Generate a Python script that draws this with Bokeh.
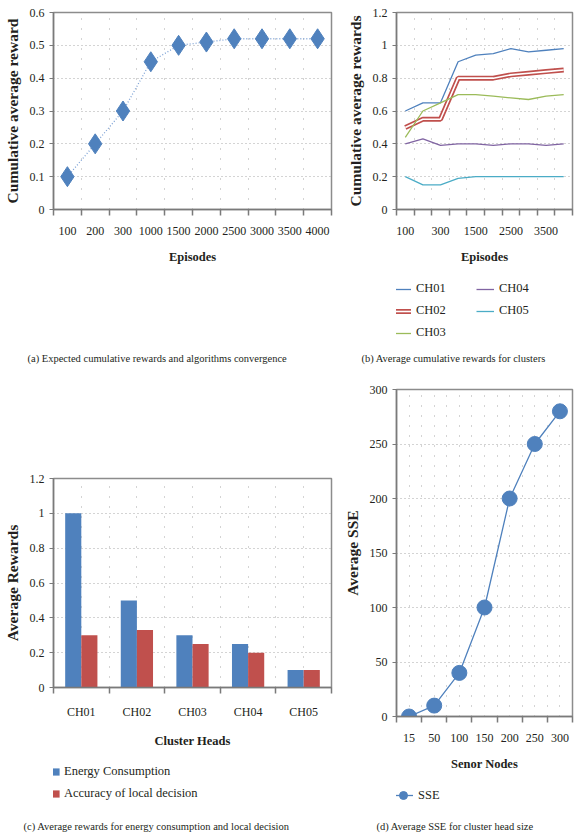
from bokeh.plotting import figure
from bokeh.layouts import row, column
from bokeh.models import (FixedTicker, CustomJSTickFormatter, Legend,
                          LegendItem, Range1d, Title)
from bokeh.embed import file_html
from bokeh.resources import INLINE

# ---------------- data ----------------
episodes = ["100", "200", "300", "1000", "1500", "2000", "2500", "3000", "3500", "4000"]
reward_a = [0.1, 0.2, 0.3, 0.45, 0.5, 0.51, 0.52, 0.52, 0.52, 0.52]
a_yticks = [0, 0.1, 0.2, 0.3, 0.4, 0.5, 0.6]

ch01 = [0.6, 0.65, 0.65, 0.9, 0.94, 0.95, 0.98, 0.96, 0.97, 0.98]
ch02 = [0.5, 0.55, 0.55, 0.8, 0.8, 0.8, 0.82, 0.83, 0.84, 0.85]
ch03 = [0.44, 0.6, 0.65, 0.7, 0.7, 0.69, 0.68, 0.67, 0.69, 0.7]
ch04 = [0.4, 0.43, 0.39, 0.4, 0.4, 0.39, 0.4, 0.4, 0.39, 0.4]
ch05 = [0.2, 0.15, 0.15, 0.19, 0.2, 0.2, 0.2, 0.2, 0.2, 0.2]
b_yticks = [0, 0.2, 0.4, 0.6, 0.8, 1.0, 1.2]
series_names = ["CH01", "CH02", "CH03", "CH04", "CH05"]

heads = ["CH01", "CH02", "CH03", "CH04", "CH05"]
energy = [1.0, 0.5, 0.3, 0.25, 0.1]
accuracy = [0.3, 0.33, 0.25, 0.2, 0.1]
bar_names = ["Energy Consumption", "Accuracy of local decision"]
c_yticks = [0, 0.2, 0.4, 0.6, 0.8, 1.0, 1.2]

nodes = ["15", "50", "100", "150", "200", "250", "300"]
sse = [0, 10, 40, 100, 200, 250, 280]
d_yticks = [0, 50, 100, 150, 200, 250, 300]

captions = [
    "(a)  Expected cumulative rewards and algorithms convergence",
    "(b)  Average cumulative rewards for clusters",
    "(c)  Average rewards for energy consumption and local decision",
    "(d)  Average SSE for cluster head size",
]

# ---------------- style ----------------
FONT = "Liberation Serif"
TXT = "#231f20"
AX = "#7a7a7a"
GRID = "#a8a8a8"
BLUE = "#4f81bd"
RED = "#c0504d"
GREEN = "#9bbb59"
PURPLE = "#8064a2"
CYAN = "#4bacc6"
LINE_COLORS = [BLUE, RED, GREEN, PURPLE, CYAN]


def make_fig(w, h, bl, br, bt, bb, labels, label_step, ymax, yticks,
             xlabel, ylabel, center_grid=False):
    n = len(labels)
    p = figure(width=w, height=h, min_border_left=bl, min_border_right=br,
               min_border_top=bt, min_border_bottom=bb,
               x_range=Range1d(0, n), y_range=Range1d(0, ymax),
               output_backend="svg", toolbar_location=None, tools="")
    p.outline_line_color = "#8c8c8c"
    p.outline_line_width = 1.5
    xt = FixedTicker(ticks=[i + 0.5 for i in range(0, n, label_step)],
                     minor_ticks=list(range(n + 1)))
    yt = FixedTicker(ticks=yticks, minor_ticks=[])
    p.xaxis.ticker = xt
    p.yaxis.ticker = yt
    p.xgrid.ticker = FixedTicker(ticks=[i + 0.5 for i in range(n)],
                                 minor_ticks=list(range(n + 1)))
    p.ygrid.ticker = yt
    p.xaxis.formatter = CustomJSTickFormatter(
        args=dict(labels=labels), code="return labels[Math.floor(tick)];")
    p.yaxis.formatter = CustomJSTickFormatter(code="return String(tick);")
    for ax in p.axis:
        ax.axis_line_color = AX
        ax.axis_line_width = 1.5
        ax.major_label_text_font = FONT
        ax.major_label_text_font_size = "12px"
        ax.major_label_text_color = TXT
        ax.axis_label_text_font = FONT
        ax.axis_label_text_font_style = "bold"
        ax.axis_label_text_color = TXT
    p.xaxis.major_tick_line_color = None
    p.xaxis.major_tick_out = 0
    p.xaxis.major_tick_in = 0
    p.xaxis.minor_tick_line_color = AX
    p.xaxis.minor_tick_line_width = 1.5
    p.xaxis.minor_tick_out = 6
    p.xaxis.minor_tick_in = 0
    p.xaxis.major_label_standoff = 11
    p.xaxis.axis_label = xlabel
    p.xaxis.axis_label_text_font_size = "12.5px"
    p.xaxis.axis_label_standoff = 12
    p.yaxis.major_tick_line_color = AX
    p.yaxis.major_tick_line_width = 1.2
    p.yaxis.major_tick_out = 4
    p.yaxis.major_tick_in = 0
    p.yaxis.minor_tick_line_color = None
    p.yaxis.major_label_standoff = 5
    p.yaxis.axis_label = ylabel
    p.yaxis.axis_label_text_font_size = "15.5px"
    p.yaxis.axis_label_standoff = 6
    p.xgrid.grid_line_color = GRID if center_grid else None
    p.xgrid.grid_line_dash = "1 9"
    p.xgrid.minor_grid_line_color = GRID
    p.xgrid.minor_grid_line_dash = "1 9"
    p.ygrid.grid_line_color = GRID
    p.ygrid.grid_line_dash = "1 3"
    return p


def footer(w, h, bl, br, bb, n):
    # legend / caption strip under a panel; its frame lines up with the panel's
    f = figure(width=w, height=h, min_border_left=bl, min_border_right=br,
               min_border_top=0, min_border_bottom=bb,
               x_range=Range1d(0, n), y_range=Range1d(-2, -1),
               x_axis_type=None, y_axis_type=None,
               output_backend="svg", toolbar_location=None, tools="")
    f.outline_line_color = None
    return f


def caption(f, text, offset):
    f.add_layout(Title(text=text, align="left", offset=offset, standoff=0,
                       text_font=FONT, text_font_size="10.5px",
                       text_font_style="normal", text_color=TXT), "below")


def legend(f, items, loc, gw=18, gh=14, standoff=7, nrows="auto", lw=20):
    for it in items:
        for r in it.renderers:
            r.visible = False   # legend-only copies; the panel above shows the data
    leg = Legend(items=items, location=loc, orientation="vertical",
                 nrows=nrows, glyph_width=gw, glyph_height=gh,
                 label_height=14, label_width=lw,
                 label_standoff=standoff, spacing=7, padding=0, margin=0,
                 border_line_color=None, background_fill_alpha=0,
                 inactive_fill_alpha=0,
                 label_text_font=FONT, label_text_font_size="12.5px",
                 label_text_color=TXT)
    f.add_layout(leg)


def draw_series(p, x, vals, col):
    if col == RED:
        return [p.line(x, vals, line_color=RED, line_width=5),
                p.line(x, vals, line_color="white", line_width=1.6)]
    return [p.line(x, vals, line_color=col, line_width=1.3)]


# ---------------- (a) ----------------
xa = [i + 0.5 for i in range(len(episodes))]
pa = make_fig(340, 270, 50, 8, 12, 61, episodes, 1, 0.6, a_yticks,
              "Episodes", "Cumulative average reward")
pa.line(xa, reward_a, line_color="#7fa3d6", line_dash="1 2", line_width=1.3)
pa.scatter(xa, reward_a, marker="diamond", size=20, fill_color=BLUE,
           line_color=BLUE)
fa = footer(340, 100, 50, 8, 20, len(episodes))
caption(fa, captions[0], -26)

# ---------------- (b) ----------------
pb = make_fig(234, 270, 49, 2, 12, 61, episodes, 2, 1.2, b_yticks,
              "Episodes", "Cumulative average rewards")
series = [ch01, ch02, ch03, ch04, ch05]
for vals, col in zip(series, LINE_COLORS):
    draw_series(pb, xa, vals, col)
fb = footer(234, 100, 49, 2, 20, len(episodes))
b_items = [LegendItem(label=name, renderers=draw_series(fb, xa, vals, col))
           for name, vals, col in zip(series_names, series, LINE_COLORS)]
legend(fb, b_items, (-3, 10), nrows=3, lw=53, standoff=5)
caption(fb, captions[1], -35)

# ---------------- (c) ----------------
xc = [i + 0.5 for i in range(len(heads))]
pc = make_fig(340, 380, 48, 9, 108, 58, heads, 1, 1.2, c_yticks,
              "Cluster Heads", "Average Rewards", center_grid=True)
bw = 0.29
bars = [(energy, BLUE, -bw / 2), (accuracy, RED, bw / 2)]
for vals, col, dx in bars:
    pc.vbar(x=[v + dx for v in xc], top=vals, width=bw,
            fill_color=col, line_color=None)
fc = footer(340, 84, 48, 9, 16, len(heads))
c_items = [LegendItem(label=name, renderers=[
    fc.vbar(x=[v + dx for v in xc], top=vals, width=bw, fill_color=col,
            line_color=None)])
    for name, (vals, col, dx) in zip(bar_names, bars)]
legend(fc, c_items, (-2, 17), gw=9, gh=9, standoff=4)
caption(fc, captions[2], -30)

# ---------------- (d) ----------------
xd = [i + 0.5 for i in range(len(nodes))]
pd_ = make_fig(234, 404, 49, 2, 19, 58, nodes, 1, 300, d_yticks,
               "Senor Nodes", "Average SSE", center_grid=True)
pd_.line(xd, sse, line_color=BLUE, line_width=1.3)
pd_.scatter(xd, sse, marker="circle", size=15, fill_color=BLUE,
            line_color=BLUE)
fd = footer(234, 60, 49, 2, 16, len(nodes))
d_items = [LegendItem(label="SSE", renderers=[
    fd.line(xd, sse, line_color=BLUE, line_width=1.3),
    fd.scatter(xd, sse, marker="circle", size=15, fill_color=BLUE,
               line_color=BLUE)])]
legend(fd, d_items, (-3, 13), gw=20, gh=20, standoff=5)
caption(fd, captions[3], -20)

layout = row(column(pa, fa, pc, fc), column(pb, fb, pd_, fd))
open("out.html", "w").write(file_html(layout, INLINE))
